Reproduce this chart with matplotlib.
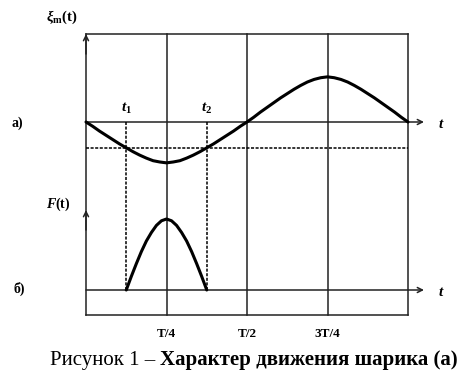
"""Figure 1 - motion of the ball: displacement xi_m(t) (a) and force F(t) (b)."""
import matplotlib
matplotlib.use("Agg")
import matplotlib.pyplot as plt

plt.rcParams["font.family"] = ["Liberation Serif", "DejaVu Serif"]
plt.rcParams["mathtext.fontset"] = "custom"
plt.rcParams["mathtext.rm"] = "Liberation Serif:bold"
plt.rcParams["mathtext.it"] = "Liberation Serif:italic:bold"
plt.rcParams["mathtext.bf"] = "Liberation Serif:bold"

# --- data (t in periods T, step T/48) ---
t_xi = [k / 48 for k in range(49)]
xi = [0, -0.10, -0.21, -0.31, -0.41, -0.51, -0.60, -0.69, -0.77, -0.84, -0.90, -0.93, -0.95,
      -0.93, -0.90, -0.84, -0.77, -0.69, -0.60, -0.51, -0.41, -0.31, -0.21, -0.10, 0,
      0.11, 0.23, 0.34, 0.45, 0.56, 0.66, 0.76, 0.85, 0.93, 0.99, 1.03, 1.05,
      1.03, 0.99, 0.93, 0.85, 0.76, 0.66, 0.56, 0.45, 0.34, 0.23, 0.11, 0]
xi_level = -0.60           # dashed threshold line
t1, t2 = 0.125, 0.375
t_f = [t1 + k / 64 for k in range(17)]
force = [0, 0.19, 0.37, 0.54, 0.69, 0.81, 0.91, 0.975, 1.0,
         0.975, 0.91, 0.81, 0.69, 0.54, 0.37, 0.19, 0]
quarters = [0.25, 0.5, 0.75]
quarter_labels = ["T/4", "T/2", "3T/4"]

W, H = 458, 372
X0, XT = 86, 322           # pixel of t=0, pixels per period
Y_XI, S_XI = 122, 43       # pixel of xi=0, pixels per unit
Y_F, S_F = 290, 71         # pixel of F=0, pixels per unit
TOP, BOT = 34, 315

fig = plt.figure(figsize=(W / 100, H / 100), dpi=100)
frame = fig.add_axes([0, 0, 1, 1])
frame.set_xlim(0, W); frame.set_ylim(H, 0)
xlim = (-X0 / XT, (W - X0) / XT)
ax_a = fig.add_axes([0, 0, 1, 1])
ax_a.set_xlim(*xlim); ax_a.set_ylim((Y_XI - H) / S_XI, Y_XI / S_XI)
ax_b = fig.add_axes([0, 0, 1, 1])
ax_b.set_xlim(*xlim); ax_b.set_ylim((Y_F - H) / S_F, Y_F / S_F)
for a in (frame, ax_a, ax_b):
    a.axis("off")
    a.patch.set_alpha(0)

frac = lambda py: 1 - py / H
lc = "#222222"

# box and grid
ax_a.plot([0, 1], [(Y_XI - TOP) / S_XI] * 2, color=lc, lw=1.1)
ax_a.plot([0, 1], [(Y_XI - BOT) / S_XI] * 2, color=lc, lw=1.1)
for q in quarters + [1]:
    ax_a.axvline(q, frac(BOT), frac(TOP), color=lc, lw=1.1)
ax_a.axvline(0, frac(BOT), frac(TOP), color=lc, lw=1.1)

# axes arrows
arr = dict(arrowstyle="->", lw=1.1, color=lc, mutation_scale=9, shrinkA=0, shrinkB=0)
frame.annotate("", xy=(X0, TOP), xytext=(X0, TOP + 20), arrowprops=arr)
frame.annotate("", xy=(X0, 210), xytext=(X0, 230), arrowprops=arr)
frame.annotate("", xy=(424, Y_XI), xytext=(X0, Y_XI), arrowprops=arr)
frame.annotate("", xy=(424, Y_F), xytext=(X0, Y_F), arrowprops=arr)

# dashed helpers
ax_a.plot([0, 1], [xi_level, xi_level], color="black", lw=1.1, ls=(0, (2, 1)))
for tt in (t1, t2):
    ax_a.axvline(tt, frac(Y_F), frac(Y_XI), color="black", lw=1.1, ls=(0, (2, 1)))

# curves
ax_a.plot(t_xi, xi, color="black", lw=2.2, solid_capstyle="round", solid_joinstyle="round")
ax_b.plot(t_f, force, color="black", lw=2.2, solid_capstyle="round", solid_joinstyle="round")

# labels
frame.text(62, 17, r"$\xi_{\mathrm{m}}$(t)", ha="center", va="center", fontsize=10.5,
           fontweight="bold")
frame.text(17, 123, "a)", ha="center", va="center", fontsize=10, fontweight="bold")
frame.text(58, 204, r"$F$(t)", ha="center", va="center", fontsize=10, fontweight="bold")
frame.text(19, 289, "б)", ha="center", va="center", fontsize=10, fontweight="bold")
frame.text(441, 125, "t", ha="center", va="center", fontsize=11, style="italic",
           fontweight="bold")
frame.text(441, 293, "t", ha="center", va="center", fontsize=11, style="italic",
           fontweight="bold")
ax_a.text(t1, (Y_XI - 108) / S_XI, r"$t_1$", ha="center", va="center", fontsize=11)
ax_a.text(t2, (Y_XI - 108) / S_XI, r"$t_2$", ha="center", va="center", fontsize=11)
for q, lab in zip(quarters, quarter_labels):
    ax_a.text(q, (Y_XI - 334) / S_XI, lab, ha="center", va="center", fontsize=9.5,
              fontweight="bold")

cap = frame.text(50, 360, "Рисунок 1 – ", ha="left", va="center", fontsize=15)
frame.annotate("Характер движения шарика (а)", xy=(1, 0.5), xycoords=cap,
               ha="left", va="center", fontsize=15, fontweight="bold")

fig.savefig("out.png", dpi=100)
plt.close(fig)
